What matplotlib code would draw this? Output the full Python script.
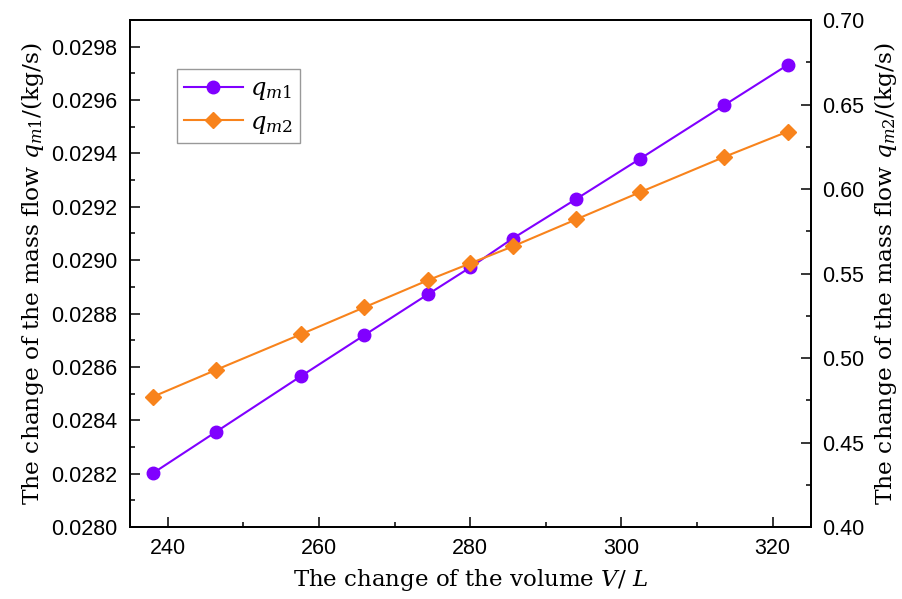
import matplotlib
matplotlib.use("Agg")
import matplotlib.pyplot as plt
from matplotlib.ticker import MultipleLocator, FormatStrFormatter

volume = [238.0, 246.4, 257.6, 266.0, 274.4, 280.0, 285.6, 294.0, 302.4, 313.6, 322.0]
qm1 = [0.028201, 0.028357, 0.028565, 0.028719, 0.028872, 0.028973,
       0.029081, 0.029229, 0.029379, 0.029581, 0.029732]
qm2 = [0.477, 0.493, 0.514, 0.530, 0.546, 0.556, 0.566, 0.582, 0.598, 0.619, 0.634]

purple = "#8000FF"
orange = "#F8831C"

plt.rcParams['mathtext.fontset'] = 'dejavuserif'
serif = "DejaVu Serif"
sans = "Liberation Sans"

fig = plt.figure(figsize=(9.02, 5.99), dpi=100)
ax = fig.add_axes([0.1441, 0.1202, 0.8986 - 0.1441, 0.9666 - 0.1202])
ax2 = ax.twinx()

l1, = ax.plot(volume, qm1, color=purple, marker='o', markersize=9, lw=1.5, zorder=3)
l2, = ax2.plot(volume, qm2, color=orange, marker='D', markersize=8, lw=1.5, zorder=3)

ax.set_xlim(235, 325)
ax.set_ylim(0.0280, 0.0299)
ax2.set_ylim(0.40, 0.70)

ax.xaxis.set_major_locator(MultipleLocator(20))
ax.xaxis.set_minor_locator(MultipleLocator(10))
ax.yaxis.set_major_locator(MultipleLocator(0.0002))
ax.yaxis.set_minor_locator(MultipleLocator(0.0001))
ax.yaxis.set_major_formatter(FormatStrFormatter('%.4f'))
ax2.yaxis.set_major_locator(MultipleLocator(0.05))
ax2.yaxis.set_minor_locator(MultipleLocator(0.025))
ax2.yaxis.set_major_formatter(FormatStrFormatter('%.2f'))

for a in (ax, ax2):
    a.tick_params(which='major', direction='in', length=7, width=1.1, labelsize=15.5, pad=9)
    a.tick_params(which='minor', direction='in', length=3.5, width=1.1)
    for lab in a.get_xticklabels() + a.get_yticklabels():
        lab.set_fontfamily(sans)
    for s in a.spines.values():
        s.set_linewidth(1.3)
ax.tick_params(axis='x', which='both', top=False, pad=8)
ax.tick_params(axis='y', which='both', right=False)
ax2.tick_params(axis='y', which='both', left=False, pad=8)

ax.set_xlabel("The change of the volume $V$/ $L$", fontfamily=serif, fontsize=16.5, labelpad=6)
ax.set_ylabel("The change of the mass flow $q_{m1}$/(kg/s)", fontfamily=serif, fontsize=16.8, labelpad=4)
ax2.set_ylabel("The change of the mass flow $q_{m2}$/(kg/s)", fontfamily=serif, fontsize=16.8, labelpad=6)

leg = ax.legend([l1, l2], ["$q_{m1}$", "$q_{m2}$"], loc='upper left',
                bbox_to_anchor=(0.069, 0.903), borderaxespad=0, fontsize=17.5,
                handlelength=2.4, frameon=True, fancybox=False, framealpha=1,
                edgecolor='#999999', borderpad=0.3, labelspacing=0.3, handletextpad=0.3)
leg.get_frame().set_linewidth(1.0)

fig.savefig("out.png", dpi=100)
